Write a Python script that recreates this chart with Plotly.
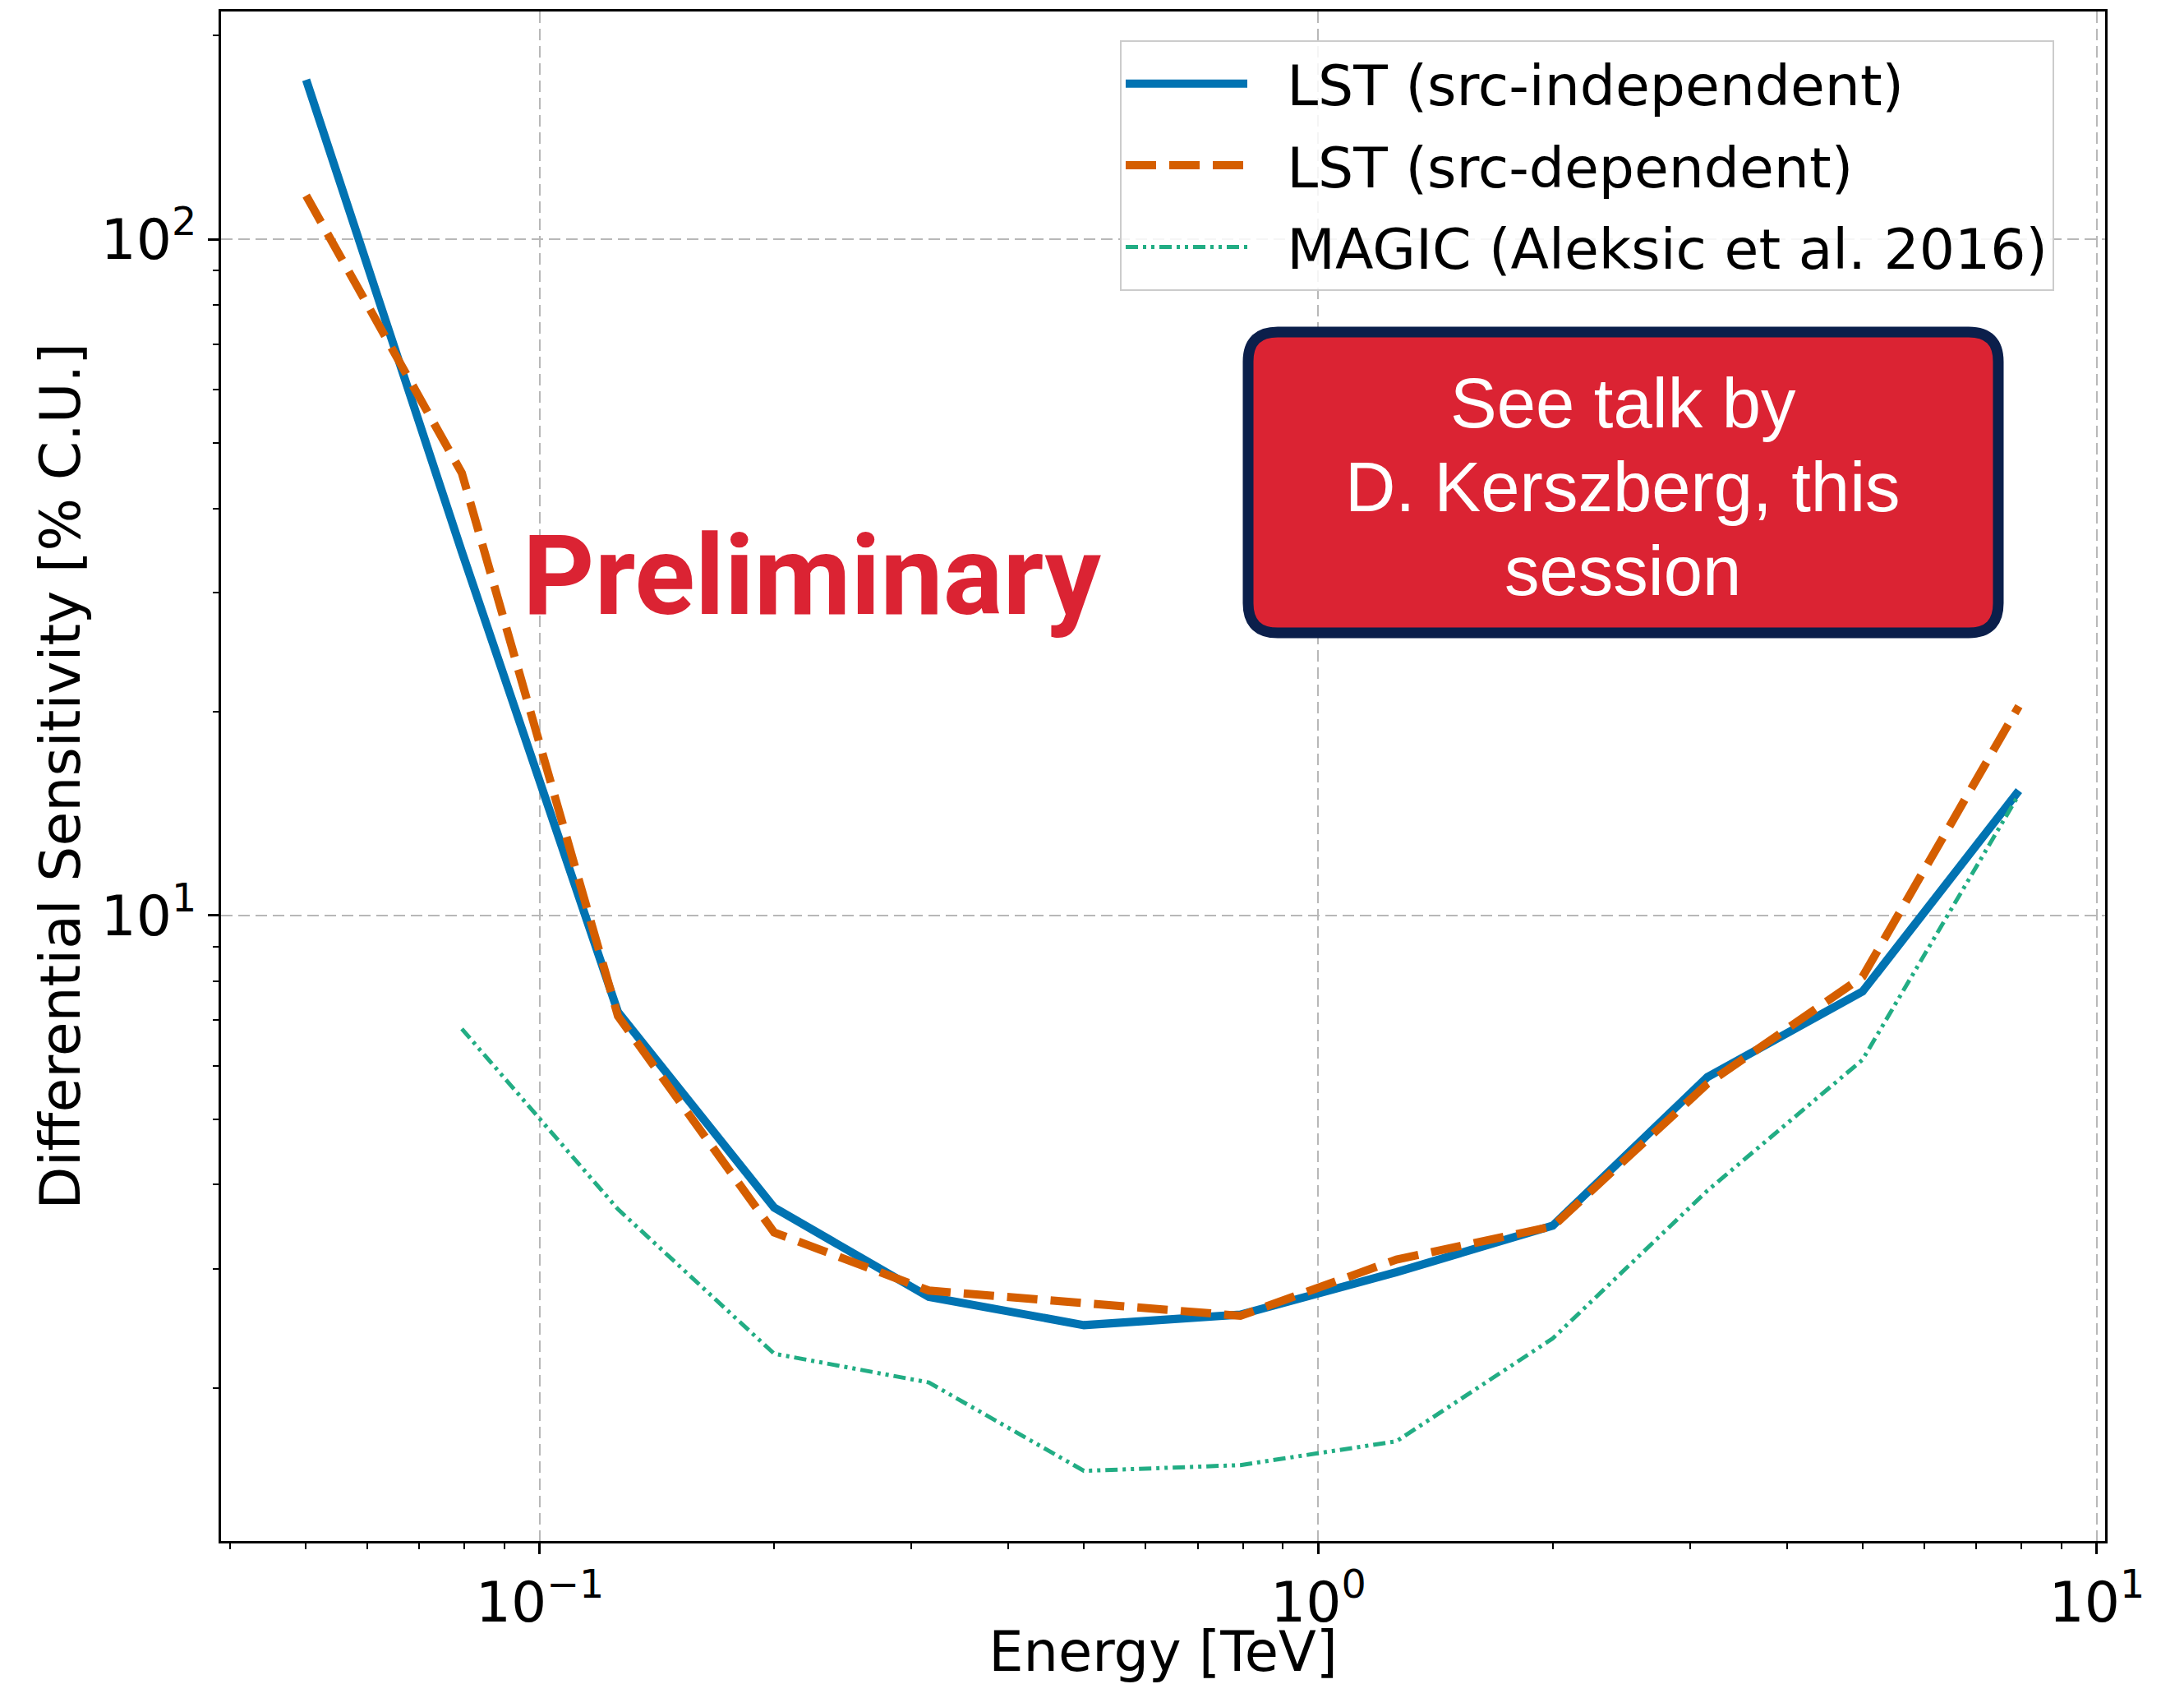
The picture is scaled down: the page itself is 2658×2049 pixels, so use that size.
import plotly.graph_objects as go

# ---- data ----
energy_tev = [0.0501, 0.0794, 0.126, 0.2, 0.316, 0.5, 0.794, 1.26, 2.0, 3.16, 5.0, 7.94]
lst_src_indep = [172, 34.5, 7.2, 3.70, 2.73, 2.48, 2.57, 2.97, 3.48, 5.77, 7.72, 15.3]
lst_src_dep = [116, 45.1, 7.1, 3.40, 2.79, 2.67, 2.56, 3.10, 3.47, 5.64, 8.12, 20.4]
magic_energy = [0.0794, 0.126, 0.2, 0.316, 0.5, 0.794, 1.26, 2.0, 3.16, 5.0, 7.94]
magic_sens = [6.8, 3.68, 2.25, 2.04, 1.51, 1.54, 1.67, 2.37, 3.92, 6.12, 15.1]

x_major = [0.1, 1, 10]
x_major_text = ["10<sup>\u22121</sup>", "10<sup>0</sup>", "10<sup>1</sup>"]
y_major = [10, 100]
y_major_text = ["10<sup>1</sup>", "10<sup>2</sup>"]
x_minor = [m * d for d in (0.01, 0.1, 1) for m in range(2, 10)]
y_minor = [m * d for d in (1, 10, 100) for m in range(2, 10)]

names = ["LST (src-independent)", "LST (src-dependent)", "MAGIC (Aleksic et al. 2016)"]
note_lines = ["See talk by", "D. Kerszberg, this", "session"]

# ---- layout geometry (pixels) ----
W, H = 2658, 2049
L, R, T, B = 269, 96, 14, 174
PW, PH = W - L - R, H - T - B


def px_x(px):
    return (px - L) / PW


def px_y(py):
    return (H - B - py) / PH


BLUE = "#0173B2"
ORANGE = "#D55E00"
GREEN = "#22AD84"
RED = "#DB2333"
NAVY = "#0B1F4B"
FONT = "DejaVu Sans"
PAD = "\u00a0\u00a0"  # gap between legend sample and label

fig = go.Figure()
fig.add_trace(go.Scatter(x=energy_tev, y=lst_src_indep, mode="lines", name=PAD + names[0],
                         legendgroup="a",
                         line=dict(color=BLUE, width=10)))
fig.add_trace(go.Scatter(x=energy_tev, y=lst_src_dep, mode="lines", name=PAD + names[1],
                         legendgroup="b",
                         line=dict(color=ORANGE, width=10, dash="37px,16px")))
fig.add_trace(go.Scatter(x=magic_energy, y=magic_sens, mode="lines", name=PAD + names[2],
                         legendgroup="c",
                         line=dict(color=GREEN, width=5, dash="15px,6px,4px,6px,4px,6px")))

axis_common = dict(
    type="log", automargin=False,
    showline=True, linecolor="black", linewidth=3, mirror=True,
    ticks="outside", ticklen=13, tickwidth=3, tickcolor="black",
    showgrid=True, gridcolor="#b8b8b8", gridwidth=2, griddash="14px,7px",
    zeroline=False,
    tickfont=dict(family=FONT, size=68, color="black"),
)

fig.update_xaxes(
    **axis_common,
    range=[-1.4095, 1.0106],
    tickmode="array", tickvals=x_major, ticktext=x_major_text,
    minor=dict(tickmode="array", tickvals=x_minor, ticks="outside", ticklen=7,
               tickwidth=2, tickcolor="black", showgrid=False),
    title=dict(text="Energy [TeV]", font=dict(family=FONT, size=67, color="black"), standoff=7),
)
fig.update_yaxes(
    **axis_common,
    range=[0.0753, 2.3366],
    tickmode="array", tickvals=y_major, ticktext=y_major_text,
    minor=dict(tickmode="array", tickvals=y_minor, ticks="outside", ticklen=7,
               tickwidth=2, tickcolor="black", showgrid=False),
    title=dict(text="Differential Sensitivity [% C.U.]",
               font=dict(family=FONT, size=68, color="black"), standoff=3),
)

# rounded red note box
x0, x1 = px_x(1519), px_x(2432)
yt, yb = px_y(404), px_y(770)
rr = 36
rx, ry = rr / PW, rr / PH
path = (f"M{x0+rx},{yt} L{x1-rx},{yt} Q{x1},{yt} {x1},{yt-ry} "
        f"L{x1},{yb+ry} Q{x1},{yb} {x1-rx},{yb} "
        f"L{x0+rx},{yb} Q{x0},{yb} {x0},{yb+ry} "
        f"L{x0},{yt-ry} Q{x0},{yt} {x0+rx},{yt} Z")
fig.add_shape(type="path", path=path, xref="paper", yref="paper",
              fillcolor=RED, line=dict(color=NAVY, width=13), layer="above")

for line_text, ypx in zip(note_lines, [491, 592, 694]):
    fig.add_annotation(text=line_text,
                       xref="paper", yref="paper", x=px_x(1975), y=px_y(ypx),
                       xanchor="center", yanchor="middle", showarrow=False,
                       font=dict(family="Liberation Sans", size=85, color="white"))

fig.add_annotation(text="Preliminary", xref="paper", yref="paper",
                   x=px_x(988), y=px_y(700), xanchor="center", yanchor="middle",
                   showarrow=False,
                   font=dict(family="Roboto", size=136, color=RED, weight="bold"))

fig.update_layout(
    width=W, height=H,
    margin=dict(l=L, r=R, t=T, b=B, pad=0, autoexpand=False),
    paper_bgcolor="white", plot_bgcolor="white",
    font=dict(family=FONT, color="black"),
    legend=dict(x=px_x(2500), y=px_y(49), xanchor="right", yanchor="top",
                bgcolor="rgba(255,255,255,0.85)", bordercolor="#cccccc", borderwidth=2,
                font=dict(family=FONT, size=68, color="black"),
                itemwidth=148, tracegroupgap=8, traceorder="grouped"),
    showlegend=True,
)

fig.write_html("out.html", config={"displayModeBar": False},
               post_script="document.body.style.margin='0px';")
